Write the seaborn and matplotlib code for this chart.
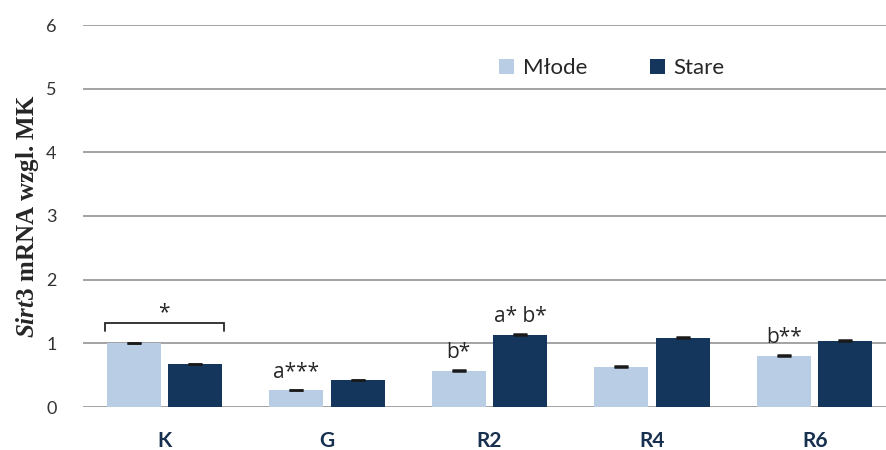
import matplotlib
matplotlib.use("Agg")
import matplotlib.pyplot as plt
import pandas as pd
import seaborn as sns

# Relative Sirt3 expression per group, young vs old
groups = ["K", "G", "R2", "R4", "R6"]
series = ["Młode", "Stare"]
mlode = [1.00, 0.26, 0.57, 0.63, 0.80]
stare = [0.67, 0.42, 1.13, 1.09, 1.04]
err_mlode = [0.01, 0.01, 0.01, 0.01, 0.01]
err_stare = [0.01, 0.01, 0.01, 0.01, 0.01]
labels_mlode = ["", "a***", "b*", "", "b**"]
labels_stare = ["", "", "a* b*", "", ""]
bracket_label = "*"
yticks = [0, 1, 2, 3, 4, 5, 6]

colors = {"Młode": "#B9CDE5", "Stare": "#14365D"}
label_navy = "#17304F"
grid_gray = "#A3A3A6"
note_font = ["Open Sans", "DejaVu Sans"]

sns.set_theme(style="white")
plt.rcParams["font.family"] = ["Lato", "DejaVu Sans"]
plt.rcParams["mathtext.fontset"] = "custom"
plt.rcParams["mathtext.it"] = "Liberation Serif:italic:bold"
plt.rcParams["mathtext.rm"] = "Liberation Serif:bold"

df = pd.DataFrame({
    "grupa": groups * 2,
    "wiek": [series[0]] * len(groups) + [series[1]] * len(groups),
    "wartosc": mlode + stare,
})

fig = plt.figure(figsize=(8.86, 4.5), dpi=100)
ax = fig.add_axes([83 / 886, 43 / 450, 813 / 886, 382 / 450])

sns.barplot(data=df, x="grupa", y="wartosc", hue="wiek", order=groups,
            hue_order=series, palette=colors, width=0.756, gap=0.122,
            errorbar=None, linewidth=0, saturation=1, ax=ax)

ax.set_xlim(-0.5, 4.5)
ax.set_ylim(0, 6)
ax.set_yticks(yticks)
ax.set_yticklabels([str(t) for t in yticks], fontsize=13, color="#333333")
ax.yaxis.grid(True, color=grid_gray, linewidth=1.4)
ax.set_axisbelow(True)
for s in ax.spines.values():
    s.set_visible(False)
ax.tick_params(axis="y", length=0, pad=19)
ax.tick_params(axis="x", length=0, pad=17)
for t in ax.get_xticklabels():
    t.set_fontsize(15)
    t.set_fontweight("bold")
    t.set_color(label_navy)
ax.set_xlabel("")
ax.set_ylabel(r"$\mathit{Sirt3}$ mRNA wzgl. MK", fontsize=18,
              family="Liberation Serif", fontweight="bold", labelpad=4)

# Upper error caps and significance letters over each bar
errs = {series[0]: err_mlode, series[1]: err_stare}
notes = {series[0]: labels_mlode, series[1]: labels_stare}
for cont, name in zip(ax.containers, series):
    for i, bar in enumerate(cont):
        cx = bar.get_x() + bar.get_width() / 2
        h = bar.get_height()
        ax.errorbar(cx, h, yerr=[[0], [errs[name][i]]], fmt="none",
                    ecolor="#1a1a1a", elinewidth=1.5, capsize=4.8,
                    capthick=1.8, zorder=5)
        if notes[name][i]:
            ax.text(cx, h + 0.2, notes[name][i], ha="center", va="baseline",
                    fontsize=15, color="#262626", family=note_font)

# Bracket linking the two K bars
k_bars = [ax.containers[0][0], ax.containers[1][0]]
x0 = k_bars[0].get_x() - 0.012
x1 = k_bars[1].get_x() + k_bars[1].get_width() + 0.012
ax.plot([x0, x0, x1, x1], [1.20, 1.32, 1.32, 1.20], color="#262626",
        linewidth=1.3, solid_joinstyle="miter")
ax.text((x0 + x1) / 2, 1.40, bracket_label, ha="center", va="baseline",
        fontsize=15, color="#262626", family=note_font)

handles, lbls = ax.get_legend_handles_labels()
ax.legend(handles, lbls, loc="center left",
          bbox_to_anchor=(499 / 886, 1 - 68 / 450),
          bbox_transform=fig.transFigure, ncol=2, frameon=False,
          fontsize=16, handlelength=0.68, handleheight=0.68,
          handletextpad=0.4, columnspacing=2.8, borderpad=0,
          borderaxespad=0)

fig.savefig("out.png", dpi=100)
